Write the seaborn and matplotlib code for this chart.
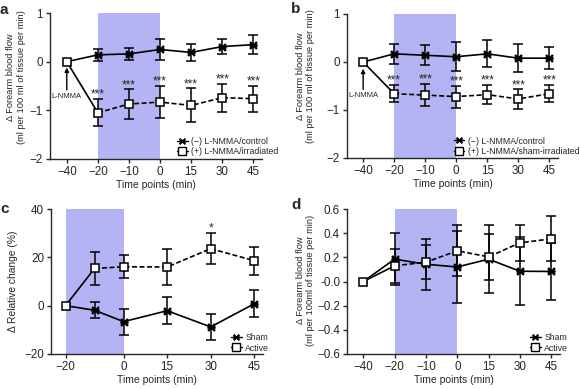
import numpy as np
import seaborn as sns
from matplotlib import pyplot as plt
from matplotlib.lines import Line2D
from matplotlib.path import Path

# Time points shown on the categorical axes (panels a, b, d)
time_labels = ["\u221240", "\u221220", "\u221210", "0", "15", "30", "45"]

# Panel a: (-) L-NMMA/control vs (+) L-NMMA/irradiated
a_ctrl = [0, 0.14, 0.16, 0.25, 0.19, 0.31, 0.35]
a_ctrl_err = [0, 0.13, 0.13, 0.21, 0.18, 0.15, 0.19]
a_irr = [0, -1.05, -0.87, -0.83, -0.90, -0.74, -0.76]
a_irr_err = [0, 0.28, 0.30, 0.33, 0.35, 0.29, 0.27]

# Panel b: (-) L-NMMA/control vs (+) L-NMMA/sham-irradiated
b_ctrl = [0, 0.17, 0.14, 0.11, 0.17, 0.08, 0.08]
b_ctrl_err = [0, 0.21, 0.21, 0.30, 0.28, 0.29, 0.23]
b_sham = [0, -0.66, -0.69, -0.72, -0.68, -0.77, -0.66]
b_sham_err = [0, 0.18, 0.23, 0.23, 0.20, 0.20, 0.18]

# Panel c: relative change (%), real time axis
c_times = [-20, -10, 0, 15, 30, 45]
c_tick_labels = ["\u221220", "0", "15", "30", "45"]
c_sham = [0, -1.9, -6.6, -2.1, -8.8, 0.8]
c_sham_err = [0, 3.4, 5.4, 5.5, 5.3, 5.5]
c_active = [0, 15.4, 16.1, 16.0, 23.6, 18.6]
c_active_err = [0, 6.7, 4.8, 7.4, 6.5, 5.8]

# Panel d: forearm blood flow, sham vs active
d_sham = [0, 0.185, 0.143, 0.12, 0.185, 0.085, 0.083]
d_sham_err = [0, 0.215, 0.21, 0.30, 0.284, 0.28, 0.235]
d_active = [0, 0.13, 0.16, 0.254, 0.204, 0.32, 0.353]
d_active_err = [0, 0.143, 0.14, 0.21, 0.19, 0.15, 0.186]

SHADE = "#b4b4f4"
STAR = Path(
    [(-1, -1), (1, 1), (-1, 1), (1, -1), (-1.2, 0), (1.2, 0)],
    [Path.MOVETO, Path.LINETO] * 3,
)

sns.set_style("ticks")
plt.rcParams["font.family"] = ["Liberation Sans", "DejaVu Sans"]
plt.rcParams["axes.linewidth"] = 1.0
plt.rcParams["xtick.major.size"] = 3
plt.rcParams["ytick.major.size"] = 3
plt.rcParams["xtick.major.pad"] = 2
plt.rcParams["ytick.major.pad"] = 2
plt.rcParams["xtick.labelsize"] = 8.4
plt.rcParams["ytick.labelsize"] = 8.4


def draw_series(ax, x, y, err, kind):
    x = list(x)
    y = list(y)
    ax.errorbar(x[1:], y[1:], yerr=err[1:], fmt="none", ecolor="black",
                elinewidth=1.1, capsize=3.5, capthick=1.1, zorder=2)
    if kind == "star":
        sns.lineplot(x=x, y=y, ax=ax, color="black", linewidth=1.2,
                     marker=STAR, markersize=6, markeredgewidth=1.7,
                     markeredgecolor="black", errorbar=None, zorder=4)
    else:
        # first segment solid, the rest dashed
        sns.lineplot(x=x[:2], y=y[:2], ax=ax, color="black", linewidth=1.2,
                     errorbar=None, zorder=3)
        sns.lineplot(x=x[1:], y=y[1:], ax=ax, color="black", linewidth=1.2,
                     linestyle=(0, (3, 1.5)), errorbar=None, zorder=3)
        sns.lineplot(x=x, y=y, ax=ax, color="black", linewidth=0,
                     marker="s", markersize=6, markerfacecolor="white",
                     markeredgecolor="black", markeredgewidth=1.1,
                     errorbar=None, zorder=5)


def add_stars(ax, x, y, err, text="***", size=8.5):
    for xi, yi, ei in zip(x, y, err):
        ax.annotate(text, xy=(xi, yi + ei), xytext=(0, 1.0),
                    textcoords="offset points", ha="center", va="baseline",
                    fontsize=size)


def add_legend(ax, labels, anchor):
    handles = [
        Line2D([0], [0], color="black", lw=1.0, marker=STAR, ms=5, mew=1.4),
        Line2D([0], [0], color="black", lw=1.0, marker="s", ms=5.5,
               mfc="white", mec="black", mew=1.0),
    ]
    ax.legend(handles, labels, loc="lower left", bbox_to_anchor=anchor,
              frameon=False, fontsize=6.3, handlelength=1.2,
              handletextpad=0.4, labelspacing=0.15, borderpad=0,
              borderaxespad=0)


def style_axis(ax, ylabel, label_x, label_y, label_size=6.7):
    sns.despine(ax=ax)
    ax.set_xlabel("Time points (min)", fontsize=7.5, labelpad=1.5)
    ax.set_ylabel(ylabel, fontsize=label_size, va="center", linespacing=1.2)
    ax.yaxis.set_label_coords(label_x, label_y)
    ax.tick_params(width=1.0, length=3)


def lnmma_arrow(ax, tip, tail, text_y):
    ax.annotate("", xy=(0, tip), xytext=(0, tail),
                arrowprops=dict(arrowstyle="-|>", color="black", lw=1.0,
                                mutation_scale=6, shrinkA=0, shrinkB=0))
    ax.text(0, text_y, "L-NMMA", ha="center", va="center", fontsize=5.5)


fig = plt.figure(figsize=(5.8, 3.89), dpi=100)
W, H = 580, 389


def make_axes(left, right, top, bottom):
    return fig.add_axes([left / W, 1 - bottom / H, (right - left) / W,
                         (bottom - top) / H])


pos = np.arange(len(time_labels))

# ---- panel a
ax = make_axes(50, 262, 13, 159)
ax.axvspan(1, 3, color=SHADE, lw=0, zorder=0)
draw_series(ax, pos, a_ctrl, a_ctrl_err, "star")
draw_series(ax, pos, a_irr, a_irr_err, "square")
add_stars(ax, pos[1:], a_irr[1:], a_irr_err[1:])
lnmma_arrow(ax, -0.12, -0.58, -0.72)
ax.set_xlim(-0.54, 6.28)
ax.set_ylim(-2, 1)
ax.set_xticks(pos)
ax.set_xticklabels(time_labels)
ax.set_yticks([-2, -1, 0, 1])
ax.set_yticklabels(["\u22122", "\u22121", "0", "1"])
style_axis(ax, "\u0394 Forearm blood flow\n(ml per 100 ml of tissue per min)",
           -0.16, 0.56)
add_legend(ax, ["(\u2212) L-NMMA/control", "(+) L-NMMA/irradiated"],
           (0.60, 0.02))

# ---- panel b
ax = make_axes(347, 558, 14, 158)
ax.axvspan(1, 3, color=SHADE, lw=0, zorder=0)
draw_series(ax, pos, b_ctrl, b_ctrl_err, "star")
draw_series(ax, pos, b_sham, b_sham_err, "square")
add_stars(ax, pos[1:], b_sham[1:], b_sham_err[1:])
lnmma_arrow(ax, -0.14, -0.57, -0.70)
ax.set_xlim(-0.52, 6.28)
ax.set_ylim(-2, 1)
ax.set_xticks(pos)
ax.set_xticklabels(time_labels)
ax.set_yticks([-2, -1, 0, 1])
ax.set_yticklabels(["\u22122", "\u22121", "0", "1"])
style_axis(ax, "\u0394 Forearm blood flow\n(ml per 100 ml of tissue per min)",
           -0.197, 0.57)
add_legend(ax, ["(\u2212) L-NMMA/control", "(+) L-NMMA/sham-irradiated"],
           (0.505, 0.015))

# ---- panel c
ax = make_axes(51, 263, 209, 354)
ax.axvspan(-20, 0, color=SHADE, lw=0, zorder=0)
draw_series(ax, c_times, c_sham, c_sham_err, "star")
draw_series(ax, c_times, c_active, c_active_err, "square")
add_stars(ax, [c_times[4]], [c_active[4]], [c_active_err[4]], text="*")
ax.set_xlim(-25, 48)
ax.set_ylim(-20, 40)
ax.set_xticks([-20, 0, 15, 30, 45])
ax.set_xticklabels(c_tick_labels)
ax.set_yticks([-20, 0, 20, 40])
ax.set_yticklabels(["\u221220", "0", "20", "40"])
style_axis(ax, "\u0394 Relative change (%)", -0.18, 0.5, label_size=7.4)
add_legend(ax, ["Sham", "Active"], (0.85, 0.01))

# ---- panel d
ax = make_axes(347, 560, 209, 354)
ax.axvspan(1, 3, color=SHADE, lw=0, zorder=0)
draw_series(ax, pos, d_sham, d_sham_err, "star")
draw_series(ax, pos, d_active, d_active_err, "square")
ax.set_xlim(-0.52, 6.28)
ax.set_ylim(-0.6, 0.6)
ax.set_xticks(pos)
ax.set_xticklabels(time_labels)
d_ticks = [-0.6, -0.4, -0.2, 0.0, 0.2, 0.4, 0.6]
ax.set_yticks(d_ticks)
ax.set_yticklabels(["\u22120.6", "\u22120.4", "\u22120.2", "-0.0", "0.2",
                    "0.4", "0.6"])
style_axis(ax, "\u0394 Forearm blood flow\n(ml per 100ml of tissue per min)",
           -0.195, 0.51)
add_legend(ax, ["Sham", "Active"], (0.86, 0.01))

for letter, x, y in [("a", 0, 10), ("b", 291, 9), ("c", 0, 209),
                     ("d", 291, 205)]:
    fig.text(x / W, 1 - y / H, letter, fontsize=11, fontweight="bold",
             ha="left", va="center")

fig.savefig("out.png", dpi=100)
